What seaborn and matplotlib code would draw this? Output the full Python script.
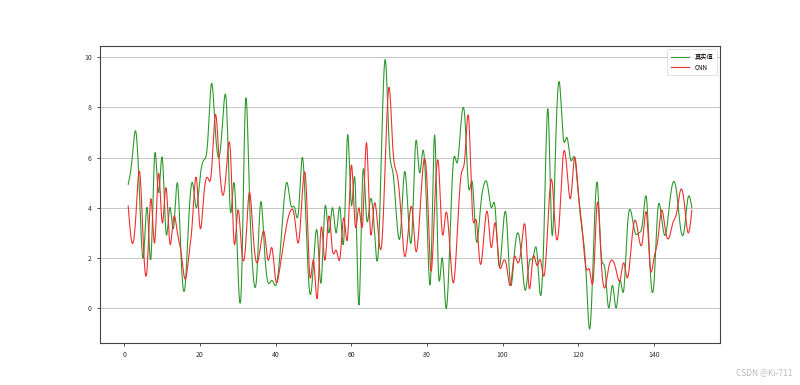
import numpy as np
import pandas as pd
import matplotlib
matplotlib.use("Agg")
import matplotlib.pyplot as plt
import seaborn as sns

# ---- data ----
x_index = list(range(1, 151))
true_values = [
    4.93, 5.9, 7.05, 4.5, 2.0, 4.0, 1.96, 6.1, 4.6, 6.0,
    3.0, 4.0, 3.2, 5.0, 2.0, 0.8, 3.5, 5.0, 4.0, 5.2,
    5.9, 6.6, 8.95, 7.2, 6.0, 7.5, 8.1, 3.9, 5.0, 1.6,
    1.2, 8.2, 4.8, 1.4, 1.3, 4.2, 2.4, 1.0, 1.1, 0.9,
    1.9, 3.9, 5.0, 4.1, 4.0, 3.8, 6.0, 3.5, 0.6, 1.8,
    3.0, 1.0, 4.0, 3.0, 4.0, 3.0, 4.0, 2.7, 6.9, 4.1,
    5.0, 0.1, 5.3, 3.6, 4.3, 3.3, 2.0, 6.5, 9.9, 6.5,
    5.4, 3.5, 3.0, 5.4, 3.8, 2.9, 6.6, 5.4, 6.3, 3.5,
    1.3, 6.9, 1.5, 2.0, 0.0, 2.5, 5.9, 5.8, 7.4, 7.6,
    4.8, 5.0, 2.7, 3.8, 4.9, 4.9, 4.0, 4.0, 1.7, 3.0,
    3.6, 1.0, 2.0, 3.0, 2.0, 0.7, 1.8, 2.0, 2.3, 0.5,
    3.5, 7.9, 3.0, 6.5, 9.0, 6.8, 6.8, 5.9, 6.0, 4.5,
    3.1, 1.5, -0.85, 2.3, 5.0, 2.2, 1.6, 0.0, 0.9, 0.0,
    1.1, 0.7, 3.3, 3.8, 3.0, 3.0, 3.4, 4.4, 1.5, 1.0,
    3.9, 3.6, 2.9, 4.0, 5.0, 4.6, 3.2, 3.1, 4.4, 4.0,
]
cnn_values = [
    4.07, 2.6, 3.6, 5.45, 2.6, 1.56, 4.36, 2.6, 5.36, 3.4,
    4.8, 2.6, 3.6, 3.0, 2.2, 1.15, 2.0, 3.5, 5.2, 3.2,
    4.5, 5.2, 5.4, 7.7, 6.0, 4.5, 5.6, 6.3, 2.6, 3.9,
    2.3, 2.4, 4.6, 3.0, 1.8, 2.5, 3.0, 1.9, 2.4, 1.1,
    1.5, 2.5, 3.4, 3.9, 3.6, 2.6, 4.5, 5.0, 1.3, 1.9,
    0.4, 3.2, 1.9, 3.65, 2.3, 2.3, 2.0, 3.6, 2.8, 5.7,
    3.3, 4.0, 3.4, 6.6, 3.1, 4.1, 3.2, 2.5, 6.0, 8.8,
    6.3, 5.4, 4.0, 2.1, 3.0, 4.0, 2.3, 3.5, 5.7, 5.0,
    1.5, 4.0, 5.8, 3.0, 3.8, 2.5, 1.0, 3.0, 5.3, 6.0,
    7.6, 3.8, 3.5, 1.8, 2.8, 3.8, 2.4, 3.4, 1.8, 1.8,
    1.7, 0.9, 2.0, 1.8, 2.5, 3.2, 0.8, 2.0, 1.7, 1.9,
    1.3, 3.5, 5.1, 3.0, 3.5, 6.1, 5.5, 4.4, 6.0, 4.6,
    3.2, 1.6, 1.5, 1.2, 4.2, 2.0, 0.8, 1.6, 1.9, 1.5,
    1.1, 1.8, 1.2, 2.5, 3.5, 2.8, 2.7, 3.8, 1.6, 2.0,
    2.7, 3.9, 3.1, 2.8, 3.4, 3.8, 4.7, 4.2, 3.0, 3.9,
]
labels = ["真实值", "CNN"]


def natural_cubic_spline(x, y, n_out=1500):
    x = np.asarray(x, float)
    y = np.asarray(y, float)
    n = len(x)
    h = np.diff(x)
    A = np.zeros((n, n))
    b = np.zeros(n)
    A[0, 0] = 1.0
    A[-1, -1] = 1.0
    for i in range(1, n - 1):
        A[i, i - 1] = h[i - 1]
        A[i, i] = 2 * (h[i - 1] + h[i])
        A[i, i + 1] = h[i]
        b[i] = 3 * ((y[i + 1] - y[i]) / h[i] - (y[i] - y[i - 1]) / h[i - 1])
    c = np.linalg.solve(A, b)
    bb = (np.diff(y) / h) - h * (2 * c[:-1] + c[1:]) / 3
    d = np.diff(c) / (3 * h)
    xs = np.linspace(x[0], x[-1], n_out)
    idx = np.clip(np.searchsorted(x, xs) - 1, 0, n - 2)
    dx = xs - x[idx]
    ys = y[idx] + bb[idx] * dx + c[idx] * dx ** 2 + d[idx] * dx ** 3
    return xs, ys


xs, g_s = natural_cubic_spline(x_index, true_values)
_, r_s = natural_cubic_spline(x_index, cnn_values)
df = pd.DataFrame({"x": np.concatenate([xs, xs]),
                   "y": np.concatenate([g_s, r_s]),
                   "series": [labels[0]] * len(xs) + [labels[1]] * len(xs)})

plt.rcParams['font.family'] = ['Noto Sans CJK SC', 'DejaVu Sans']
plt.rcParams['axes.unicode_minus'] = False

fig, ax = plt.subplots(figsize=(8, 3.85), dpi=100)
fig.subplots_adjust(left=0.125, right=0.9, bottom=0.11, top=0.88)

sns.lineplot(data=df, x="x", y="y", hue="series",
             palette={labels[0]: "#2e9a2e", labels[1]: "#f03030"},
             linewidth=0.8, ax=ax, sort=False, estimator=None)

ax.set_xlabel("")
ax.set_ylabel("")
ax.set_xticks([0, 20, 40, 60, 80, 100, 120, 140])
ax.set_yticks([0, 2, 4, 6, 8, 10])
ax.tick_params(labelsize=5, length=2.5, width=0.6, colors="#333333")
ax.yaxis.grid(True, color="#c8c8c8", linewidth=0.7)
ax.set_axisbelow(True)
for s in ax.spines.values():
    s.set_linewidth(0.8)
    s.set_color("#444444")

leg = ax.legend(loc="upper right", fontsize=4.5, frameon=True,
                handlelength=3, borderpad=0.6, labelspacing=0.4)
leg.get_frame().set_linewidth(0.5)
for line in leg.get_lines():
    line.set_linewidth(0.8)

fig.text(0.99, 0.02, "CSDN @Ki-711", ha="right", va="bottom",
         fontsize=6, color="#bbbbbb")

fig.savefig("out.png", dpi=100)
